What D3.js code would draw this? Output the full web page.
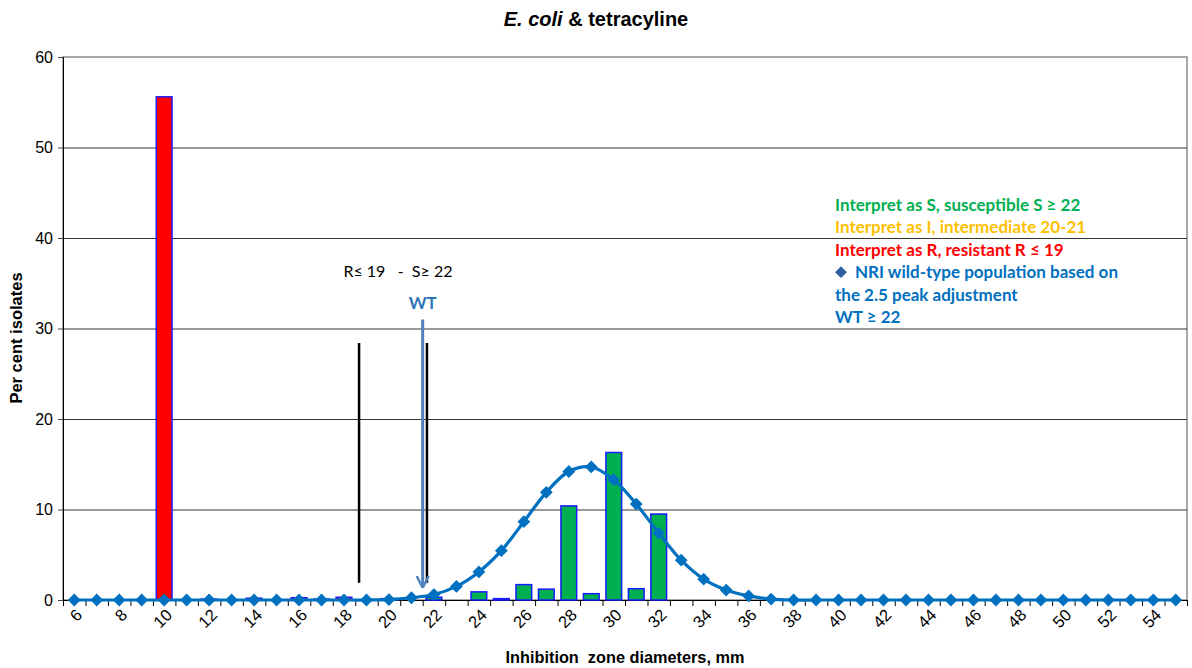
<!DOCTYPE html>
<html>
<head>
<meta charset="utf-8">
<script src="https://cdn.jsdelivr.net/npm/d3@7"></script>
<style>
  body { margin: 0; background: #fff; }
  svg { font-family: Arial, "Liberation Sans", sans-serif; }
</style>
</head>
<body>
<div id="graf"></div>
<script>
// zone diameters 6..55 mm
const zones = d3.range(6, 56)
// per cent isolates (bars)
const isolates = [
  0, 0, 0, 0, 55.6, 0, 0.1, 0, 0.2, 0,
  0.25, 0.1, 0.3, 0, 0.15, 0, 0.3, 0, 0.9, 0.15,
  1.7, 1.2, 10.4, 0.7, 16.3, 1.25, 9.5, 0, 0, 0,
  0, 0, 0, 0, 0, 0, 0, 0, 0, 0,
  0, 0, 0, 0, 0, 0, 0, 0, 0, 0
]
// NRI wild-type fitted population (line)
const wildType = [
  0, 0, 0, 0, 0, 0, 0, 0, 0, 0,
  0, 0, 0, 0, 0.05, 0.25, 0.6, 1.5, 3.1, 5.45,
  8.65, 11.9, 14.2, 14.7, 13.3, 10.6, 7.4, 4.4, 2.3, 1.1,
  0.45, 0.1, 0, 0, 0, 0, 0, 0, 0, 0,
  0, 0, 0, 0, 0, 0, 0, 0, 0, 0
]
const yTicks = [0, 10, 20, 30, 40, 50, 60]
const xLabels = zones.filter(d => d % 2 === 0)

const legendLines = [
  { text: 'Interpret as S, susceptible S \u2265 22', color: '#00b050' },
  { text: 'Interpret as I, intermediate 20-21', color: '#ffc000' },
  { text: 'Interpret as R, resistant R \u2264 19', color: '#ff0000' },
  { text: 'NRI wild-type population based on', color: '#0070c0', marker: true },
  { text: 'the 2.5 peak adjustment', color: '#0070c0' },
  { text: 'WT \u2265 22', color: '#0070c0' }
]

const anchoTotal = 1192
const altoTotal = 668
const margin = { top: 57, right: 5, bottom: 68, left: 63 }
const ancho = anchoTotal - margin.left - margin.right
const alto = altoTotal - margin.top - margin.bottom

const svg = d3.select('#graf')
  .append('svg')
  .attr('width', anchoTotal)
  .attr('height', altoTotal)

const g = svg.append('g')
  .attr('transform', `translate(${margin.left}, ${margin.top})`)

const x = d3.scaleBand()
  .domain(zones)
  .range([0, ancho])
  .paddingInner(0.3)
  .paddingOuter(0.15)

// continuous version of the category axis, for annotations and ticks
const xl = d3.scaleLinear()
  .domain([5.5, 55.5])
  .range([0, ancho])

const y = d3.scaleLinear()
  .domain([0, 60])
  .range([alto, 0])

const cx = d => x(d) + x.bandwidth() / 2

const barColor = z => z <= 19 ? '#ff0000' : (z <= 21 ? '#ffc000' : '#00b050')

// plot border
g.append('rect')
  .attr('width', ancho)
  .attr('height', alto)
  .attr('fill', 'none')
  .attr('stroke', '#8c8c8c')
  .attr('stroke-width', 1.5)

// gridlines
g.selectAll('.grid')
  .data(yTicks.filter(d => d > 0 && d < 60))
  .enter()
  .append('line')
  .attr('x1', 0)
  .attr('x2', ancho)
  .attr('y1', d => y(d) + 0.5)
  .attr('y2', d => y(d) + 0.5)
  .attr('stroke', '#333')
  .attr('stroke-width', 1)

// y axis
const yAxisGroup = g.append('g')
  .call(d3.axisLeft(y).tickValues(yTicks).tickSize(5).tickPadding(5))
yAxisGroup.select('.domain').attr('stroke', '#000')
yAxisGroup.selectAll('line').attr('stroke', '#444')
yAxisGroup.selectAll('text')
  .attr('font-size', 16)
  .attr('font-family', 'Arial, "Liberation Sans", sans-serif')
  .attr('fill', '#000')

// x axis: ticks between categories
const xAxisGroup = g.append('g')
  .attr('transform', `translate(0, ${alto})`)
  .call(d3.axisBottom(xl).tickValues(d3.range(5.5, 56, 1)).tickSize(6).tickFormat(''))
xAxisGroup.select('.domain').attr('stroke', '#000')
xAxisGroup.selectAll('line').attr('stroke', '#000')

g.append('g')
  .selectAll('text')
  .data(xLabels)
  .enter()
  .append('text')
  .attr('transform', d => `translate(${cx(d) + 5}, ${alto + 12}) rotate(-45)`)
  .attr('text-anchor', 'end')
  .attr('dy', '0.35em')
  .attr('font-size', 16.5)
  .attr('fill', '#000')
  .text(d => d)

// bars
g.selectAll('.bar')
  .data(zones.map((z, i) => ({ z, v: isolates[i] })).filter(d => d.v > 0))
  .enter()
  .append('rect')
  .attr('class', 'bar')
  .attr('x', d => x(d.z))
  .attr('width', x.bandwidth())
  .attr('y', d => y(d.v))
  .attr('height', d => alto - y(d.v))
  .attr('fill', d => barColor(d.z))
  .attr('stroke', '#1a1aff')
  .attr('stroke-width', 1.5)

// R / S breakpoint lines
const breaks = [18.67, 21.69]
g.selectAll('.brk')
  .data(breaks)
  .enter()
  .append('line')
  .attr('x1', d => xl(d))
  .attr('x2', d => xl(d))
  .attr('y1', y(28.4))
  .attr('y2', y(1.9))
  .attr('stroke', '#000')
  .attr('stroke-width', 2.5)

g.append('text')
  .attr('x', xl(20.4))
  .attr('y', y(36.3))
  .attr('text-anchor', 'middle')
  .attr('dy', '0.35em')
  .attr('font-family', 'Lato, "Open Sans", sans-serif')
  .attr('font-size', 16)
  .attr('fill', '#000')
  .attr('xml:space', 'preserve')
  .text('R\u2264 19   -  S\u2265 22')

// WT arrow
svg.append('defs').append('marker')
  .attr('id', 'arrow')
  .attr('viewBox', '0 0 10 10')
  .attr('refX', 8)
  .attr('refY', 5)
  .attr('markerWidth', 4)
  .attr('markerHeight', 5)
  .attr('orient', 'auto')
  .append('path')
  .attr('d', 'M0,0 L10,5 L0,10')
  .attr('fill', 'none')
  .attr('stroke', '#4f81bd')
  .attr('stroke-width', 2)

const wtX = 21.5
g.append('line')
  .attr('x1', xl(wtX))
  .attr('x2', xl(wtX))
  .attr('y1', y(31))
  .attr('y2', y(1.6))
  .attr('stroke', '#4f81bd')
  .attr('stroke-width', 3)
  .attr('marker-end', 'url(#arrow)')

g.append('text')
  .attr('x', xl(wtX))
  .attr('y', y(32.8))
  .attr('text-anchor', 'middle')
  .attr('dy', '0.35em')
  .attr('font-family', 'Lato, "Open Sans", sans-serif')
  .attr('font-weight', 'bold')
  .attr('font-size', 17)
  .attr('fill', '#2e75b6')
  .text('WT')

// wild-type curve
const pts = zones.map((z, i) => ({ z, v: wildType[i] }))
const line = d3.line()
  .x(d => cx(d.z))
  .y(d => y(d.v))
  .curve(d3.curveCatmullRom.alpha(0.5))

g.append('path')
  .datum(pts)
  .attr('d', line)
  .attr('fill', 'none')
  .attr('stroke', '#0070c0')
  .attr('stroke-width', 3.2)

const diamond = d3.symbol().type(d3.symbolSquare).size(82)
g.selectAll('.pt')
  .data(pts)
  .enter()
  .append('path')
  .attr('d', diamond)
  .attr('transform', d => `translate(${cx(d.z)}, ${y(d.v)}) rotate(45)`)
  .attr('fill', '#0070c0')

// legend text
const leg = svg.append('g')
  .attr('transform', 'translate(835, 205)')
leg.selectAll('text')
  .data(legendLines)
  .enter()
  .append('text')
  .attr('x', d => d.marker ? 20 : 0)
  .attr('y', (d, i) => i * 22.4)
  .attr('dy', '0.35em')
  .attr('font-family', 'Lato, "Open Sans", sans-serif')
  .attr('font-weight', 'bold')
  .attr('font-size', 17)
  .attr('fill', d => d.color)
  .text(d => d.text)

leg.append('path')
  .attr('d', d3.symbol().type(d3.symbolSquare).size(70))
  .attr('transform', `translate(6, ${3 * 22.4}) rotate(45)`)
  .attr('fill', '#2f5f9e')

// titles
const title = svg.append('text')
  .attr('x', anchoTotal / 2)
  .attr('y', 19)
  .attr('text-anchor', 'middle')
  .attr('dy', '0.35em')
  .attr('font-size', 20)
  .attr('font-weight', 'bold')
title.append('tspan').attr('font-style', 'italic').text('E. coli')
title.append('tspan').text(' & tetracyline')

svg.append('text')
  .attr('transform', `translate(16, 338) rotate(-90)`)
  .attr('text-anchor', 'middle')
  .attr('dy', '0.35em')
  .attr('font-size', 16.5)
  .attr('font-weight', 'bold')
  .text('Per cent isolates')

svg.append('text')
  .attr('x', margin.left + ancho / 2)
  .attr('y', 657)
  .attr('text-anchor', 'middle')
  .attr('dy', '0.35em')
  .attr('font-size', 16.3)
  .attr('font-weight', 'bold')
  .attr('xml:space', 'preserve')
  .text('Inhibition  zone diameters, mm')
</script>
</body>
</html>
